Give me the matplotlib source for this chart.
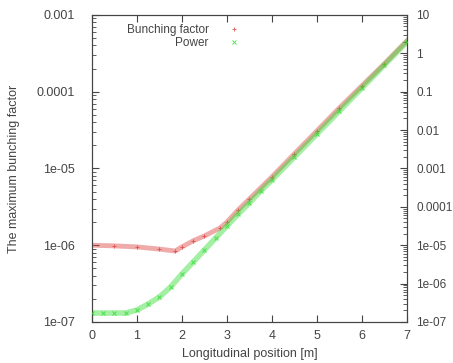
import matplotlib
matplotlib.use("Agg")
import matplotlib.pyplot as plt
from matplotlib.ticker import FuncFormatter, LogLocator

plt.rcParams['font.family'] = ['Liberation Sans', 'DejaVu Sans']

# bunching factor (left axis)
z_bunch = [0.0, 0.5, 1.0, 1.5, 1.85, 2.0, 2.25, 2.5, 2.85, 3.0, 3.25, 3.5,
           4.0, 4.5, 5.0, 5.5, 6.0, 6.5, 7.0]
bunching = [1.0e-6, 9.8e-7, 9.5e-7, 8.9e-7, 8.4e-7, 9.5e-7, 1.14e-6, 1.32e-6,
            1.68e-6, 2.0e-6, 2.88e-6, 4.0e-6, 7.75e-6, 1.55e-5, 3.08e-5,
            6.14e-5, 1.19e-4, 2.3e-4, 4.58e-4]

# power (right axis)
z_power = [0.0, 0.25, 0.5, 0.75, 1.0, 1.25, 1.5, 1.75, 2.0, 2.25, 2.5, 2.75,
           3.0, 3.25, 3.5, 3.75, 4.0, 4.5, 5.0, 5.5, 6.0, 6.5, 7.0]
power = [1.71e-7, 1.71e-7, 1.71e-7, 1.71e-7, 2.05e-7, 2.94e-7, 4.48e-7,
         8.2e-7, 1.78e-6, 3.65e-6, 7.5e-6, 1.54e-5, 3.16e-5, 6.5e-5, 1.26e-4,
         2.58e-4, 4.99e-4, 1.98e-3, 7.87e-3, 3.13e-2, 0.124, 0.493, 1.96]

txt = '#444444'
red = '#dd4444'
green = '#33dd33'

fig = plt.figure(figsize=(4.53, 3.63), dpi=100)
ax = fig.add_axes([0.203, 0.113, 0.695, 0.846])
ax2 = ax.twinx()

# thick faint band + markers, mimics densely packed gnuplot points
ax.plot(z_bunch, bunching, color=red, lw=3.5, alpha=0.45, zorder=2)
ax.plot(z_bunch, bunching, color=red, lw=0, marker='+', ms=3.5, mew=0.7,
        alpha=0.8, label='Bunching factor', zorder=3)
ax2.plot(z_power, power, color=green, lw=4, alpha=0.45, zorder=2)
ax2.plot(z_power, power, color=green, lw=0, marker='x', ms=3, mew=0.7,
         alpha=0.8, label='Power', zorder=3)

fmt = FuncFormatter(lambda v, p: '%g' % v)

ax.set_xlim(0, 7)
ax.set_yscale('log')
ax.set_ylim(1e-7, 1e-3)
ax2.set_yscale('log')
ax2.set_ylim(1e-7, 10)
for a in (ax, ax2):
    a.yaxis.set_major_locator(LogLocator(base=10, numticks=20))
    a.yaxis.set_minor_locator(LogLocator(base=10, subs=range(2, 10), numticks=20))
    a.yaxis.set_major_formatter(fmt)
    a.yaxis.set_minor_formatter(FuncFormatter(lambda v, p: ''))

ax.set_xticks(range(8))
ax.tick_params(axis='x', direction='in', top=True, length=5, colors=txt,
               labelsize=9, pad=6)
ax.tick_params(axis='y', which='major', direction='in', length=5, colors=txt,
               labelsize=9, pad=12)
ax.tick_params(axis='y', which='minor', direction='in', length=3, colors=txt)
ax2.tick_params(axis='y', which='major', direction='in', length=5, colors=txt,
                labelsize=8.5, pad=7)
ax2.tick_params(axis='y', which='minor', direction='in', length=3, colors=txt)

for a in (ax, ax2):
    for s in a.spines.values():
        s.set_color(txt)

ax.set_xlabel('Longitudinal position [m]', color=txt, fontsize=9, labelpad=4)
ax.set_ylabel('The maximum bunching factor', color=txt, fontsize=9, labelpad=12)

h1, l1 = ax.get_legend_handles_labels()
h2, l2 = ax2.get_legend_handles_labels()
leg = ax2.legend(h1 + h2, l1 + l2, loc='upper left', bbox_to_anchor=(0.08, 1.0),
                 markerfirst=False, frameon=False, fontsize=8.5,
                 handlelength=1.5, handletextpad=1.4, labelspacing=0.05,
                 borderpad=0.3)
for t in leg.get_texts():
    t.set_color(txt)

fig.savefig('out.png', dpi=100)
